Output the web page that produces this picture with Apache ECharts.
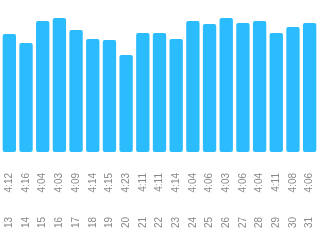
<!DOCTYPE html>
<html>
<head>
<meta charset="utf-8">
<style>html,body{margin:0;padding:0;background:#fff;}#c{width:320px;height:240px;}</style>
<script src="https://cdn.jsdelivr.net/npm/echarts@6/dist/echarts.min.js"></script>
</head>
<body>
<div id="c"></div>
<script>
var days = ['13','14','15','16','17','18','19','20','21','22','23','24','25','26','27','28','29','30','31'];
var paceLabels = ['4:12','4:16','4:04','4:03','4:09','4:14','4:15','4:23','4:11','4:11','4:14','4:04','4:06','4:03','4:06','4:04','4:11','4:08','4:06'];
var values = [77.6,71.7,86.2,88.2,80.3,74.3,73.7,63.8,78.3,78.3,74.3,86.2,84.2,88.2,84.9,86.2,78.3,82.2,84.9];

var chart = echarts.init(document.getElementById('c'), null, {renderer:'canvas'});
var labelCommon = {rotate:90, fontSize:10, color:'#888', fontFamily:'Liberation Sans, Arial, sans-serif'};
chart.setOption({
  animation:false,
  grid:{left:1, right:2, top:0, bottom:88, containLabel:false},
  xAxis:[
    {type:'category', data:paceLabels, position:'bottom',
     axisLine:{show:false}, axisTick:{show:false}, splitLine:{show:false},
     axisLabel:Object.assign({margin:21, interval:0}, labelCommon)},
    {type:'category', data:days, position:'bottom', offset:0,
     axisLine:{show:false}, axisTick:{show:false}, splitLine:{show:false},
     axisLabel:Object.assign({margin:65, interval:0}, labelCommon)}
  ],
  yAxis:{type:'value', min:0, max:100, show:false},
  series:[{
    type:'bar', xAxisIndex:0, data:values,
    barCategoryGap:'20%',
    itemStyle:{color:'#2BBCFD', borderRadius:2}
  }]
});
</script>
</body>
</html>
